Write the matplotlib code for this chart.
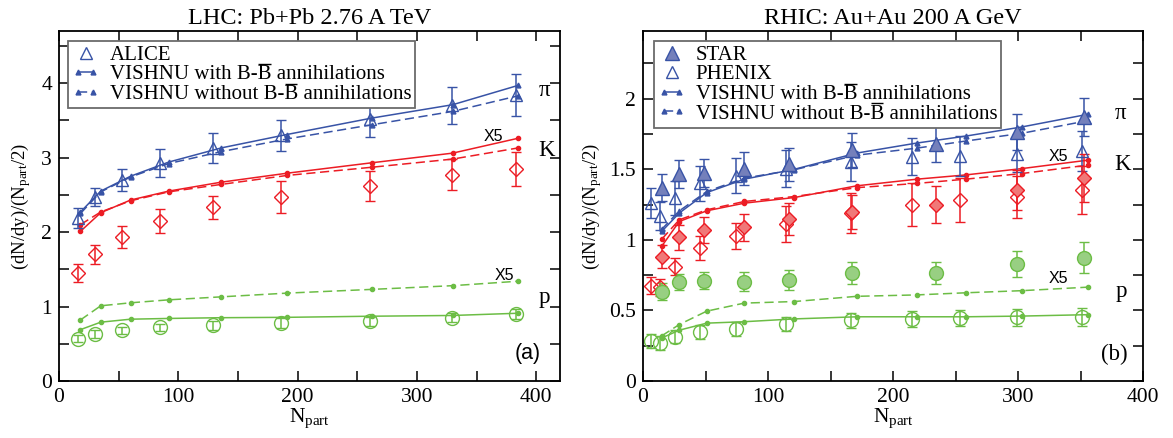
import matplotlib
matplotlib.use("Agg")
import matplotlib.pyplot as plt
from matplotlib.lines import Line2D
from matplotlib.legend_handler import HandlerLine2D
from matplotlib.ticker import MultipleLocator, FuncFormatter

plt.rcParams['font.family'] = ['Liberation Serif', 'DejaVu Serif']
plt.rcParams['mathtext.fontset'] = 'custom'
plt.rcParams['mathtext.rm'] = 'Liberation Serif'
plt.rcParams['mathtext.it'] = 'Liberation Serif:italic'

# ---------------- LHC data ----------------
lhc_npart_data = [15.6, 30.0, 52.8, 85.0, 128.9, 186.4, 260.5, 329.7, 382.8]
lhc_pi = [2.19, 2.47, 2.70, 2.93, 3.13, 3.30, 3.52, 3.70, 3.84]
lhc_pi_err = [0.13, 0.12, 0.15, 0.19, 0.20, 0.21, 0.25, 0.25, 0.28]
lhc_k = [1.45, 1.70, 1.93, 2.15, 2.33, 2.47, 2.62, 2.77, 2.85]
lhc_k_err = [0.12, 0.13, 0.15, 0.16, 0.15, 0.22, 0.20, 0.21, 0.23]
lhc_p = [0.57, 0.63, 0.68, 0.72, 0.75, 0.78, 0.80, 0.85, 0.90]
lhc_p_err = [0.05, 0.05, 0.05, 0.05, 0.06, 0.07, 0.06, 0.06, 0.07]

lhc_npart_model = [18, 35, 60, 92, 136, 191, 262, 330, 385]
lhc_pi_with = [2.27, 2.55, 2.75, 2.94, 3.13, 3.31, 3.53, 3.71, 3.97]
lhc_pi_without = [2.25, 2.54, 2.74, 2.92, 3.08, 3.25, 3.44, 3.62, 3.83]
lhc_k_with = [2.01, 2.26, 2.43, 2.55, 2.67, 2.79, 2.93, 3.06, 3.26]
lhc_k_without = [2.10, 2.27, 2.42, 2.54, 2.64, 2.76, 2.87, 2.98, 3.13]
lhc_p_with = [0.69, 0.79, 0.83, 0.84, 0.85, 0.855, 0.87, 0.88, 0.91]
lhc_p_without = [0.82, 1.01, 1.05, 1.09, 1.13, 1.18, 1.23, 1.28, 1.34]

# ---------------- RHIC data ----------------
star_npart = [15.5, 29.0, 49.0, 81.0, 117.0, 167.0, 234.6, 299.3, 352.4]
star_pi = [1.37, 1.465, 1.475, 1.505, 1.535, 1.635, 1.68, 1.765, 1.87]
star_pi_err = [0.095, 0.10, 0.10, 0.115, 0.115, 0.12, 0.127, 0.13, 0.135]
star_k = [0.882, 1.017, 1.071, 1.09, 1.15, 1.20, 1.25, 1.355, 1.44]
star_k_err = [0.08, 0.09, 0.093, 0.095, 0.113, 0.12, 0.13, 0.14, 0.17]
star_p = [0.634, 0.70, 0.712, 0.705, 0.716, 0.765, 0.765, 0.83, 0.875]
star_p_err = [0.06, 0.057, 0.057, 0.068, 0.068, 0.077, 0.08, 0.093, 0.11]

phenix_npart = [6.3, 13.4, 25.7, 45.5, 74.4, 114.2, 166.6, 215.3, 253.9, 299.0, 351.4]
phenix_pi = [1.26, 1.17, 1.296, 1.40, 1.454, 1.505, 1.555, 1.59, 1.595, 1.61, 1.63]
phenix_pi_err = [0.107, 0.10, 0.12, 0.125, 0.125, 0.13, 0.14, 0.13, 0.14, 0.13, 0.14]
phenix_k = [0.676, 0.664, 0.811, 0.941, 1.028, 1.113, 1.19, 1.25, 1.28, 1.305, 1.35]
phenix_k_err = [0.06, 0.06, 0.063, 0.085, 0.095, 0.13, 0.14, 0.153, 0.155, 0.15, 0.17]
phenix_p = [0.286, 0.267, 0.314, 0.35, 0.369, 0.404, 0.43, 0.44, 0.445, 0.45, 0.455]
phenix_p_err = [0.05, 0.05, 0.048, 0.05, 0.05, 0.05, 0.055, 0.055, 0.055, 0.06, 0.065]

rhic_npart_model = [15, 29, 51, 81, 121, 171, 219, 258, 303, 356]
rhic_pi_with = [1.06, 1.19, 1.335, 1.43, 1.50, 1.615, 1.686, 1.735, 1.80, 1.89]
rhic_pi_without = [1.075, 1.205, 1.343, 1.437, 1.497, 1.60, 1.65, 1.70, 1.755, 1.845]
rhic_k_with = [0.955, 1.13, 1.206, 1.26, 1.30, 1.383, 1.43, 1.46, 1.505, 1.565]
rhic_k_without = [1.005, 1.142, 1.213, 1.272, 1.307, 1.37, 1.40, 1.43, 1.47, 1.53]
rhic_p_with = [0.305, 0.36, 0.41, 0.42, 0.44, 0.455, 0.455, 0.455, 0.46, 0.47]
rhic_p_without = [0.32, 0.40, 0.495, 0.552, 0.563, 0.60, 0.61, 0.625, 0.64, 0.665]

BLUE = '#3853a6'
RED = '#ec1c24'
GREEN = '#6cbd45'
BLUE_F = '#7480bb'
RED_F = '#f07878'
GREEN_F = '#98cf82'

FS = 15.5
W = 1173.0
H = 438.0
fig = plt.figure(figsize=(W / 100, H / 100), dpi=100)
ax1 = fig.add_axes([59 / W, (H - 381) / H, 501 / W, 350 / H])
ax2 = fig.add_axes([643 / W, (H - 381) / H, 500 / W, 350 / H])

LW = 1.1
EB = dict(elinewidth=1.1, capsize=3.8, capthick=1.1, ls='none')
fmt = FuncFormatter(lambda v, p: '%g' % round(v, 3))


def style_axes(ax, xmax, ymax, ymajor, yminor, ylpad):
    ax.set_xlim(0, xmax)
    ax.set_ylim(0, ymax)
    ax.xaxis.set_major_locator(MultipleLocator(100))
    ax.xaxis.set_minor_locator(MultipleLocator(50))
    ax.yaxis.set_major_locator(MultipleLocator(ymajor))
    ax.yaxis.set_minor_locator(MultipleLocator(yminor))
    ax.xaxis.set_major_formatter(fmt)
    ax.yaxis.set_major_formatter(fmt)
    ax.tick_params(which='both', direction='in', top=True, right=True,
                   labelsize=FS, width=1.1, pad=5)
    ax.tick_params(which='major', length=7)
    ax.tick_params(which='minor', length=7)
    for s in ax.spines.values():
        s.set_linewidth(1.3)
    ax.set_xlabel(r'N$_{\rm part}$', fontsize=FS, labelpad=0)
    ax.set_ylabel(r'(dN/dy)/(N$_{\rm part}$/2)', fontsize=13.5, labelpad=ylpad)


def model(ax, x, yw, ywo, color, marker, ms):
    ax.plot(x, yw, '-', color=color, lw=LW, marker=marker, ms=ms, mec=color, mfc=color)
    ax.plot(x, ywo, '--', color=color, lw=LW, marker=marker, ms=ms, mec=color, mfc=color,
            dashes=(6, 3))


SANS = ['Liberation Sans', 'DejaVu Sans']

# ---------------- LHC panel ----------------
ax = ax1
model(ax, lhc_npart_model, lhc_pi_with, lhc_pi_without, BLUE, '^', 3.5)
model(ax, lhc_npart_model, lhc_k_with, lhc_k_without, RED, 'o', 3)
model(ax, lhc_npart_model, lhc_p_with, lhc_p_without, GREEN, 'o', 3)
ax.errorbar(lhc_npart_data, lhc_pi, yerr=lhc_pi_err, color=BLUE, marker='^', ms=9,
            mfc='none', mec=BLUE, mew=1.0, **EB)
ax.errorbar(lhc_npart_data, lhc_k, yerr=lhc_k_err, color=RED, marker='D', ms=7,
            mfc='none', mec=RED, mew=1.0, **EB)
ax.errorbar(lhc_npart_data, lhc_p, yerr=lhc_p_err, color=GREEN, marker='o', ms=10,
            mfc='none', mec=GREEN, mew=1.0, **EB)
style_axes(ax, 420, 4.7, 1, 0.5, 6)
ax.set_title('LHC: Pb+Pb 2.76 A TeV', fontsize=17.5, pad=5)
ax.text(402, 3.90, '\u03c0', fontsize=FS + 1, ha='left', va='center')
ax.text(402, 3.10, 'K', fontsize=FS + 1, ha='left', va='center')
ax.text(402, 1.12, 'p', fontsize=FS + 1, ha='left', va='center')
ax.text(364, 3.28, 'X5', fontsize=11.5, family=SANS, ha='center', va='center')
ax.text(373, 1.41, 'X5', fontsize=11.5, family=SANS, ha='center', va='center')
ax.text(393, 0.37, '(a)', fontsize=FS, family=SANS, ha='center', va='center')

h_alice = Line2D([], [], ls='none', marker='^', ms=9, mfc='none', mec=BLUE, mew=1.0)
h_with = Line2D([], [], ls='-', color=BLUE, lw=LW, marker='^', ms=3.5)
h_wo = Line2D([], [], ls='--', color=BLUE, lw=LW, marker='^', ms=3.5, dashes=(6, 3))
leg_kw = dict(loc='upper left', fontsize=15, frameon=True, fancybox=False,
              edgecolor='#6b6b6b', framealpha=1, borderpad=0.2, labelspacing=0.0,
              handlelength=1.3, handletextpad=0.5, borderaxespad=0, numpoints=2)
# The second "B" carries an overline (antibaryon); drawn after layout below.
lab_with = 'VISHNU with B-B annihilations'
lab_wo = 'VISHNU without B-B annihilations'
leg = ax.legend([h_alice, h_with, h_wo], ['ALICE', lab_with, lab_wo],
                bbox_to_anchor=(0.018, 0.971),
                handler_map={h_alice: HandlerLine2D(numpoints=1)}, **leg_kw)
leg.get_frame().set_linewidth(1.3)

# ---------------- RHIC panel ----------------
ax = ax2
model(ax, rhic_npart_model, rhic_pi_with, rhic_pi_without, BLUE, '^', 3.5)
model(ax, rhic_npart_model, rhic_k_with, rhic_k_without, RED, 'o', 3)
model(ax, rhic_npart_model, rhic_p_with, rhic_p_without, GREEN, 'o', 3)
ax.errorbar(phenix_npart, phenix_pi, yerr=phenix_pi_err, color=BLUE, marker='^', ms=9,
            mfc='none', mec=BLUE, mew=1.0, **EB)
ax.errorbar(phenix_npart, phenix_k, yerr=phenix_k_err, color=RED, marker='D', ms=7,
            mfc='none', mec=RED, mew=1.0, **EB)
ax.errorbar(phenix_npart, phenix_p, yerr=phenix_p_err, color=GREEN, marker='o', ms=10,
            mfc='none', mec=GREEN, mew=1.0, **EB)
ax.errorbar(star_npart, star_pi, yerr=star_pi_err, color=BLUE, marker='^', ms=10,
            mfc=BLUE_F, mec=BLUE, mew=1.0, **EB)
ax.errorbar(star_npart, star_k, yerr=star_k_err, color=RED, marker='D', ms=7.5,
            mfc=RED_F, mec=RED, mew=1.0, **EB)
ax.errorbar(star_npart, star_p, yerr=star_p_err, color=GREEN, marker='o', ms=10,
            mfc=GREEN_F, mec=GREEN, mew=1.0, **EB)
style_axes(ax, 400, 2.48, 0.5, 0.25, 4)
ax.set_title('RHIC: Au+Au 200 A GeV', fontsize=17.5, pad=5)
ax.text(377, 1.893, '\u03c0', fontsize=FS + 1, ha='left', va='center')
ax.text(377, 1.536, 'K', fontsize=FS + 1, ha='left', va='center')
ax.text(378, 0.635, 'p', fontsize=FS + 1, ha='left', va='center')
ax.text(332, 1.59, 'X5', fontsize=11.5, family=SANS, ha='center', va='center')
ax.text(332, 0.725, 'X5', fontsize=11.5, family=SANS, ha='center', va='center')
ax.text(377, 0.19, '(b)', fontsize=FS + 1, ha='center', va='center')

h_star = Line2D([], [], ls='none', marker='^', ms=10, mfc=BLUE_F, mec=BLUE, mew=1.0)
h_phenix = Line2D([], [], ls='none', marker='^', ms=9, mfc='none', mec=BLUE, mew=1.0)
leg2 = ax.legend([h_star, h_phenix, h_with, h_wo], ['STAR', 'PHENIX', lab_with, lab_wo],
                 bbox_to_anchor=(0.022, 0.971),
                 handler_map={h_star: HandlerLine2D(numpoints=1),
                              h_phenix: HandlerLine2D(numpoints=1)}, **leg_kw)
leg2.get_frame().set_linewidth(1.3)

# ---- overline over the anti-baryon "B" in the legend labels ----
fig.canvas.draw()
renderer = fig.canvas.get_renderer()
for lg in (leg, leg2):
    for t in lg.get_texts():
        s = t.get_text()
        if 'B-B' not in s:
            continue
        prop = t.get_fontproperties()
        bb = t.get_window_extent(renderer)
        i = s.index('B-B') + 2
        w0, _, _ = renderer.get_text_width_height_descent(s[:i], prop, ismath=False)
        w1, _, _ = renderer.get_text_width_height_descent(s[:i + 1], prop, ismath=False)
        _, _, dlp = renderer.get_text_width_height_descent('lp', prop, ismath=False)
        em = prop.get_size_in_points() * fig.dpi / 72.0
        base = bb.y0 + dlp
        yb = base + 0.66 * em + 1.5
        xa, xb = bb.x0 + w0 + 0.5, bb.x0 + w1 - 0.5
        fig.add_artist(Line2D([xa / W, xb / W], [yb / H, yb / H], transform=fig.transFigure,
                              color='black', lw=1.0, solid_capstyle='butt'))

fig.savefig('out.png', dpi=100)
